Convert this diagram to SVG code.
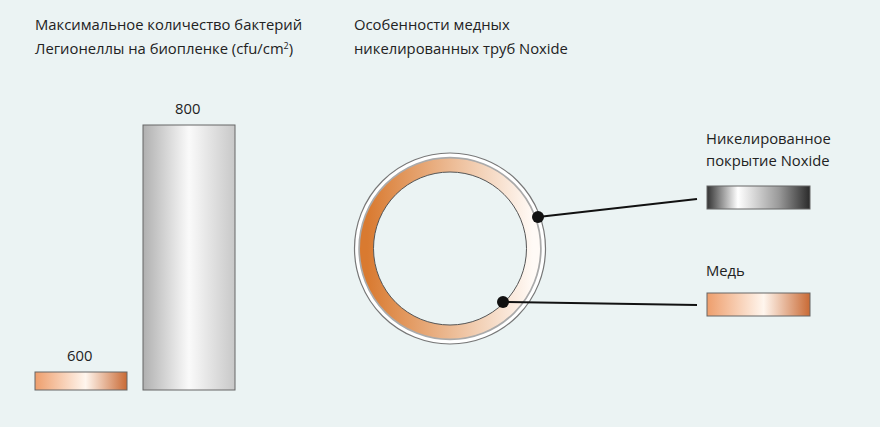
<svg xmlns="http://www.w3.org/2000/svg" width="880" height="427" viewBox="0 0 880 427">
<style>
text{font-family:"Open Sans","Noto Sans",sans-serif;font-size:14.8px;fill:#222}
.bar{stroke:#666;stroke-width:1}
</style>
<defs>
<linearGradient id="cu" x1="0" x2="1"><stop offset="0" stop-color="#ee9e6c"/><stop offset="0.55" stop-color="#fff6ee"/><stop offset="1" stop-color="#c96a35"/></linearGradient>
<linearGradient id="ni" x1="0" x2="1"><stop offset="0" stop-color="#333"/><stop offset="0.3" stop-color="#fff"/><stop offset="0.7" stop-color="#999"/><stop offset="1" stop-color="#2a2a2a"/></linearGradient>
<linearGradient id="col" x1="0" x2="1"><stop offset="0" stop-color="#b0b0b0"/><stop offset="0.5" stop-color="#fafafa"/><stop offset="1" stop-color="#c8c8c8"/></linearGradient>
<linearGradient id="ring" x1="0" x2="1"><stop offset="0" stop-color="#d97a30"/><stop offset="1" stop-color="#fffaf6"/></linearGradient>
</defs>
<rect width="880" height="427" fill="#ebf3f3"/>
<g id="title1"><text x="35" y="30">Максимальное количество бактерий</text><text x="35" y="54">Легионеллы на биопленке (cfu/cm<tspan font-size="9" dy="-5">2</tspan><tspan dy="5">)</tspan></text></g>
<g id="title2"><text x="354" y="30">Особенности медных</text><text x="354" y="54">никелированных труб Noxide</text></g>
<g id="bar600"><rect class="bar" x="35" y="372" width="92" height="18" fill="url(#cu)"/><text x="67" y="361">600</text></g>
<g id="bar800"><rect class="bar" x="143" y="125" width="92" height="265" fill="url(#col)"/><text x="175" y="114">800</text></g>
<g id="pipe">
<circle cx="450" cy="248.5" r="95.5" fill="#fff" stroke="#777" stroke-width="1.2"/>
<circle cx="450" cy="248.5" r="90.5" fill="none" stroke="#aaa" stroke-width="2.5"/>
<circle cx="450" cy="248.5" r="83" fill="none" stroke="url(#ring)" stroke-width="14"/>
<circle cx="450" cy="248.5" r="76.5" fill="#ebf3f3" stroke="#555" stroke-width="1"/>
</g>
<g id="connectors" stroke="#111" stroke-width="2">
<line x1="538" y1="217" x2="697" y2="199"/><circle cx="538" cy="217" r="6" fill="#111" stroke="none"/>
<line x1="503" y1="302" x2="697" y2="305"/><circle cx="503" cy="302" r="6" fill="#111" stroke="none"/>
</g>
<g id="nickel"><text x="706" y="144">Никелированное</text><text x="706" y="166">покрытие Noxide</text><rect class="bar" x="707" y="186" width="103" height="23" fill="url(#ni)"/></g>
<g id="copper"><text x="706" y="276">Медь</text><rect class="bar" x="707" y="293" width="103" height="23" fill="url(#cu)"/></g>
</svg>
